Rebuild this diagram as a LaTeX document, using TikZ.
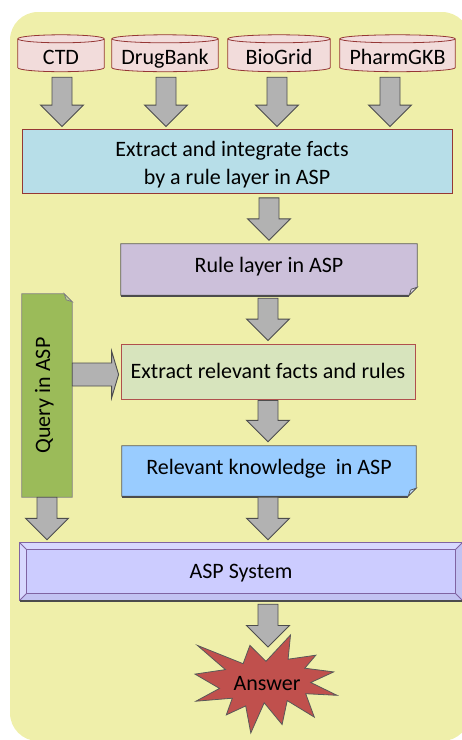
\documentclass[tikz,border=0pt]{standalone}
\usepackage{fontspec}
\setmainfont{Carlito}
\usetikzlibrary{calc}
\pgfdeclarelayer{background}
\pgfsetlayers{background,main}
\definecolor{bgyel}{HTML}{EFEFAA}
\definecolor{dbfill}{HTML}{F2DCDB}
\definecolor{dbline}{HTML}{953735}
\definecolor{arrfill}{HTML}{B2B2B2}
\definecolor{arrline}{HTML}{4D4D4D}
\definecolor{exfill}{HTML}{B7DEE8}
\definecolor{rulefill}{HTML}{CCC0DA}
\definecolor{rulefold}{HTML}{DDD6E6}
\definecolor{relfill}{HTML}{D7E4BD}
\definecolor{relline}{HTML}{B0504D}
\definecolor{knowfill}{HTML}{99CCFF}
\definecolor{knowfold}{HTML}{C2E0FF}
\definecolor{qfill}{HTML}{9BBB59}
\definecolor{qfold}{HTML}{C3D69B}
\definecolor{qline}{HTML}{7F7F7F}
\definecolor{aspfill}{HTML}{CCCCFF}
\definecolor{asplight}{HTML}{D8D8FF}
\definecolor{aspdark}{HTML}{C2C2F2}
\definecolor{aspline}{HTML}{8064A2}
\definecolor{ansfill}{HTML}{C0504D}
\definecolor{boxline}{HTML}{595959}
\tikzset{
  txt/.style={font=\fontsize{22}{28}\selectfont, inner sep=0pt, text height=14.2pt, text depth=0pt},
  foldtxt/.style={txt, text depth=8pt},
  dbnode/.style={txt, minimum height=29pt},
  blockarr/.style={fill=arrfill, draw=arrline, line width=0.9pt, line join=miter},
  thinline/.style={line width=0.8pt},
}
\newcommand\blockdown[2]{%
  \draw[blockarr] let \p1=#1, \p2=#2 in
    (\x1-10pt,\y1) -- (\x1+10pt,\y1) -- (\x1+10pt,\y2+21.5pt) -- (\x1+21.5pt,\y2+21.5pt)
    -- (\x1,\y2) -- (\x1-21.5pt,\y2+21.5pt) -- (\x1-10pt,\y2+21.5pt) -- cycle;}
\newcommand\blockright[2]{%
  \draw[blockarr] let \p1=#1, \p2=#2 in
    (\x1,\y2+11.5pt) -- (\x2-7pt,\y2+11.5pt) -- (\x2-7pt,\y2+23.5pt) -- (\x2,\y2)
    -- (\x2-7pt,\y2-23.5pt) -- (\x2-7pt,\y2-11.5pt) -- (\x1,\y2-11.5pt) -- cycle;}
\newcommand\dbcyl[1]{%
  \path[fill=dbfill, draw=dbline, thinline] let \p1=(#1.north west), \p2=(#1.south east), \n1={(\x2-\x1)/2} in
    (\x1,\y1+3.5pt) -- (\x1,\y2+4pt) arc[start angle=180, end angle=360, x radius={\n1*1pt}, y radius=4pt]
    -- (\x2,\y1+3.5pt) arc[start angle=0, end angle=180, x radius={\n1*1pt}, y radius=4pt] -- cycle;
  \draw[dbline, thinline] let \p1=(#1.north west), \p2=(#1.south east), \n1={(\x2-\x1)/2} in
    (\x1,\y1+3.5pt) arc[start angle=180, end angle=360, x radius={\n1*1pt}, y radius=4pt];}
\newcommand\foldbox[3]{%
  \path[fill=#2, draw=boxline, thinline] (#1.north west) -- (#1.north east) -- ($(#1.south east)+(0,8pt)$)
    -- ($(#1.south east)+(-8pt,0)$) -- (#1.south west) -- cycle;
  \draw[line width=1.6pt, black!70] ($(#1.south west)+(0,-0.6pt)$) -- ($(#1.south east)+(-8pt,-0.6pt)$);
  \path[fill=#3, draw=boxline, thinline] ($(#1.south east)+(0,8pt)$) -- ($(#1.south east)+(-8pt,0)$)
    -- ($(#1.south east)+(-6pt,6pt)$) -- cycle;}
\begin{document}
\begin{tikzpicture}[x=1pt,y=-1pt]
\useasboundingbox (0,0) rectangle (462,740);
% nodes
\node[dbnode, minimum width=86pt] (ctd) at (61,57) {CTD};
\node[dbnode, minimum width=106pt] (drug) at (165,57) {DrugBank};
\node[dbnode, minimum width=102pt] (bio) at (279,57) {BioGrid};
\node[dbnode, minimum width=115pt] (pgkb) at (397.5,57) {PharmGKB};
\node[font=\fontsize{22}{28}\selectfont, inner sep=0pt, align=center, minimum width=430pt, minimum height=64pt,
      fill=exfill, draw=dbline, thinline] (extract) at (237,161)
      {\rule{0pt}{22pt}Extract and integrate facts\hspace*{10pt}\\by a rule layer in ASP};
\node[foldtxt, minimum width=296pt, minimum height=51pt] (rule) at (269,269.5) {Rule layer in ASP};
\node[txt, minimum width=294pt, minimum height=55pt, fill=relfill, draw=relline, thinline] (extrel) at (268,371.5)
      {Extract relevant facts and rules};
\node[foldtxt, minimum width=294pt, minimum height=50pt] (relk) at (269,471) {Relevant knowledge\ \ in ASP};
\node[foldtxt, rotate=90, minimum width=203pt, minimum height=50pt] (query) at (47,395.5) {Query in ASP};
\node[txt, minimum width=442pt, minimum height=57pt] (asp) at (241,571.5) {ASP System};
\coordinate (anstip) at (268,647);
\node[txt] (answer) at (267,683) {Answer};
\begin{pgfonlayer}{background}
\fill[bgyel, rounded corners=28pt] (10,12) rectangle (470,741);
\dbcyl{ctd}\dbcyl{drug}\dbcyl{bio}\dbcyl{pgkb}
\foldbox{rule}{rulefill}{rulefold}
\foldbox{relk}{knowfill}{knowfold}
% query box with folded top-right corner
\path[fill=qfill, draw=qline, thinline] (query.north east) -- ($(query.south east)+(-8pt,0)$)
  -- ($(query.south east)+(0,-8pt)$) -- (query.south west) -- (query.north west) -- cycle;
\path[fill=qfold, draw=qline, thinline] ($(query.south east)+(-8pt,0)$) -- ($(query.south east)+(0,-8pt)$)
  -- ($(query.south east)+(-6pt,-6pt)$) -- cycle;
% ASP system bevel
\coordinate (ai1) at ($(asp.north west)+(7pt,-7pt)$);
\coordinate (ai2) at ($(asp.north east)+(-7pt,-7pt)$);
\coordinate (ai3) at ($(asp.south east)+(-7pt,7pt)$);
\coordinate (ai4) at ($(asp.south west)+(7pt,7pt)$);
\fill[aspfill] (asp.north west) rectangle (asp.south east);
\fill[asplight] (asp.north west) -- (asp.north east) -- (ai2) -- (ai1) -- cycle;
\fill[asplight] (asp.north west) -- (ai1) -- (ai4) -- (asp.south west) -- cycle;
\fill[aspdark] (asp.south west) -- (ai4) -- (ai3) -- (asp.south east) -- cycle;
\fill[aspdark] (asp.north east) -- (asp.south east) -- (ai3) -- (ai2) -- cycle;
\draw[aspline, thinline] (asp.north west) rectangle (asp.south east);
\draw[aspline, thinline] (ai1) rectangle (ai3);
\draw[aspline, thinline] (asp.north west) -- (ai1) (asp.north east) -- (ai2)
  (asp.south east) -- (ai3) (asp.south west) -- (ai4);
\draw[line width=1.6pt, black!70] ($(asp.south west)+(0,-0.6pt)$) -- ($(asp.south east)+(0,-0.6pt)$);
% answer explosion
\path[fill=ansfill, draw=boxline, thinline] (266.0,661.3) -- (290.5,635) -- (288.1,659.2) -- (315.8,655.2)
  -- (304.8,668.2) -- (333.7,671.9) -- (310.8,682.5) -- (337,695.3) -- (305.7,693.7) -- (314.3,717.1)
  -- (287.2,700.6) -- (282.1,724.5) -- (264.2,702.8) -- (250.8,733) -- (245.7,705.9) -- (226.3,714.9)
  -- (232.3,698.2) -- (195.9,701.2) -- (219.5,688.4) -- (195,674.1) -- (225.4,669.6) -- (197.4,645.4)
  -- (243.1,663.7) -- (249.9,645.4) -- cycle;
% block arrows
\blockdown{($(ctd.south)+(1pt,-5.5pt)$)}{($(extract.north)+(0,2pt)$)}
\blockdown{($(drug.south)+(1pt,-5.5pt)$)}{($(extract.north)+(0,2pt)$)}
\blockdown{($(bio.south)+(-2pt,-5.5pt)$)}{($(extract.north)+(0,2pt)$)}
\blockdown{($(pgkb.south)+(-7.5pt,-5.5pt)$)}{($(extract.north)+(0,2pt)$)}
\blockdown{($(rule.north |- extract.south)+(0,-4.5pt)$)}{($(rule.north)+(0,3.5pt)$)}
\blockdown{($(rule.south)+(-1pt,-3pt)$)}{($(extrel.north)+(0,3pt)$)}
\blockdown{($(extrel.south)+(0,-1pt)$)}{($(relk.north)+(0,4pt)$)}
\blockdown{($(relk.south)+(-1pt,-1pt)$)}{($(asp.north)+(0,3pt)$)}
\blockdown{(query.west)}{($(asp.north)+(0,3pt)$)}
\blockright{(query.south)}{($(extrel.west)+(-2pt,-3pt)$)}
\blockdown{($(anstip |- asp.south)+(0,-4pt)$)}{(anstip)}
\end{pgfonlayer}
\end{tikzpicture}
\end{document}
